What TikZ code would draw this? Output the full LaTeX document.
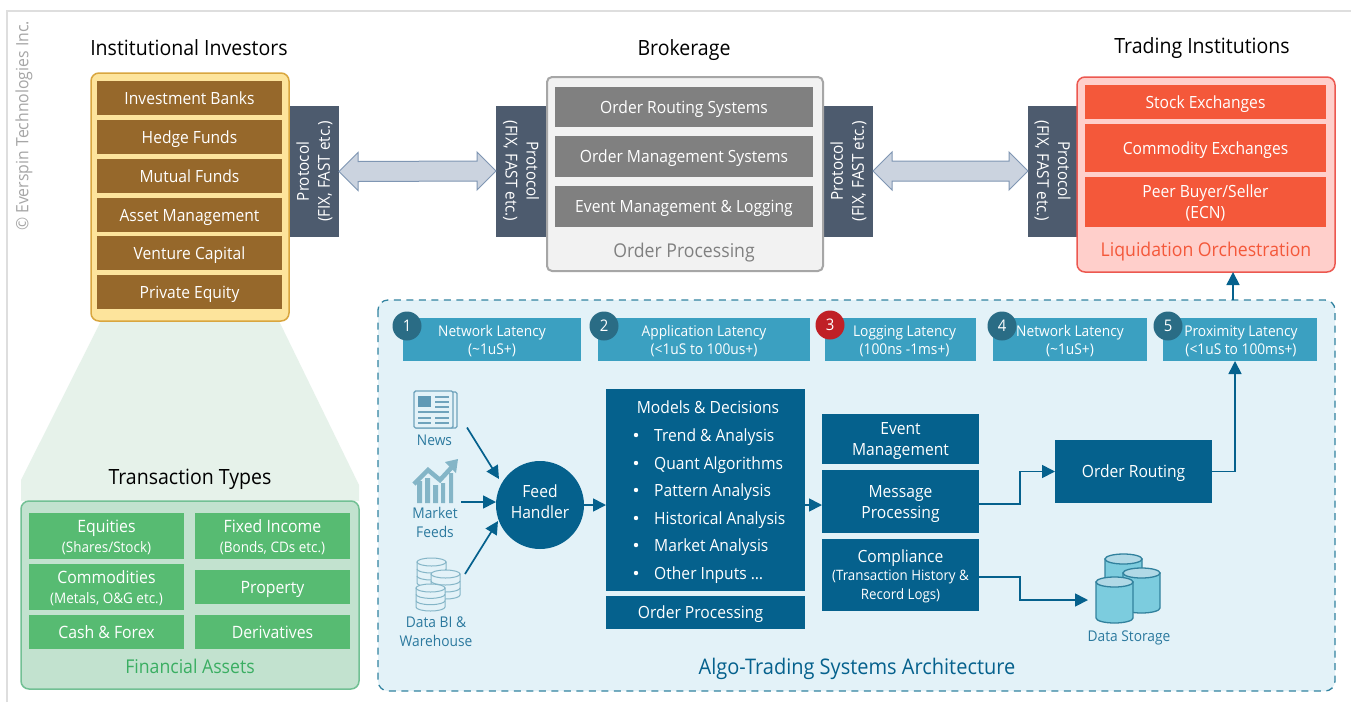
\documentclass[tikz,border=0pt]{standalone}
\usepackage{fontspec}
\setmainfont[FakeStretch=0.93]{Open Sans}
\usetikzlibrary{arrows.meta,calc}
\definecolor{brownb}{HTML}{96682B}
\definecolor{prot}{HTML}{4D5B6E}
\definecolor{algo}{HTML}{05618D}
\definecolor{lat}{HTML}{3BA0C1}
\definecolor{latc}{HTML}{2A6C85}
\definecolor{redc}{HTML}{C02026}
\definecolor{grn}{HTML}{57BB72}
\definecolor{orng}{HTML}{F4583A}
\definecolor{iconc}{HTML}{6FA3BC}
\definecolor{iconl}{HTML}{84B5C7}
\definecolor{panelb}{HTML}{E3F2F8}
\definecolor{hatch}{HTML}{CBD3DF}
\definecolor{hatchd}{HTML}{7F96B3}
\definecolor{funnelc}{HTML}{E6F2EA}
\newsavebox\tbx
\newcommand{\low}[2]{\sbox\tbx{\begin{tabular}{@{}c@{}}#2\end{tabular}}\raisebox{#1}[\ht\tbx][\dp\tbx]{\usebox\tbx}}
\tikzset{
  x=1pt,y=-1pt,
  panel/.style={rounded corners=8pt,line width=1.5pt},
  bx/.style={inner sep=0pt,outer sep=0pt,align=center,text=white,font=\fontsize{16.8}{21}\selectfont},
  protbox/.style={bx,fill=prot,rotate=#1,minimum width=131pt,minimum height=49pt,font=\fontsize{16.4}{21}\selectfont},
  latbox/.style={bx,fill=lat,font=\fontsize{14.8}{18}\selectfont},
  finbox/.style={bx,fill=grn,font=\fontsize{17}{20}\selectfont},
  badge/.style={circle,fill=latc,text=white,minimum size=29pt,inner sep=0pt,font=\fontsize{16}{18}\selectfont},
  ttl/.style={inner sep=0pt,text height=15pt,text depth=4pt,font=\fontsize{21}{24}\selectfont,text=black},
  sub/.style={inner sep=0pt,text height=15pt,text depth=4pt,font=\fontsize{19}{22}\selectfont},
  iconlbl/.style={inner sep=0pt,align=center,text=algo!85,font=\fontsize{14.8}{19}\selectfont},
  lst/.style={inner sep=0pt,text height=12pt,text depth=4pt,text=white,font=\fontsize{16.8}{18}\selectfont,anchor=west,yshift=-2pt},
  conn/.style={draw=algo,line width=1.7pt,-{Triangle[length=13pt,width=13pt]}},
  biga/.style={fill=hatch,draw=hatchd,line width=1pt,line join=miter},
}
% \bx{name}{x1}{y1}{x2}{y2}{style}{text}
\newcommand{\bx}[7]{\node[bx,#6,minimum width={(#4-#2)*1pt},minimum height={(#5-#3)*1pt}] (#1) at ({(#2+#4)/2},{(#3+#5)/2}) {\low{-2pt}{#7}};}
\newcommand{\dbl}[2]{\path[biga] (#1) -- ++(19,-19) -- ++(0,9) -- ($(#2)+(-19,-10)$) -- ++(0,-9) -- (#2) -- ++(-19,19) -- ++(0,-9) -- ($(#1)+(19,10)$) -- ++(0,9) -- cycle;}
% \cyln{x1}{ytop}{x2}{ybot}
\newcommand{\cyln}[4]{%
  \path[fill=lat!60!white!90!cyan,draw=latc!60!lat,line width=1.3pt] (#1,#2) -- (#1,#4) arc[start angle=180,end angle=0,x radius={(#3-#1)/2},y radius=5] -- (#3,#2) -- cycle;
  \path[fill=lat!40!white,draw=latc!60!lat,line width=1.3pt] ({(#1+#3)/2},#2) ellipse[x radius={(#3-#1)/2},y radius=5];}
% thin stack of discs
\newcommand{\stk}[4]{%
  \path[fill=panelb,draw=iconl,line width=1pt] (#1,#2) -- (#1,#4) arc[start angle=180,end angle=0,x radius={(#3-#1)/2},y radius=4] -- (#3,#2) -- cycle;
  \draw[iconl,line width=1pt] (#1,{#2+(#4-#2)/3}) arc[start angle=180,end angle=0,x radius={(#3-#1)/2},y radius=4];
  \draw[iconl,line width=1pt] (#1,{#2+2*(#4-#2)/3}) arc[start angle=180,end angle=0,x radius={(#3-#1)/2},y radius=4];
  \path[fill=panelb,draw=iconl,line width=1pt] ({(#1+#3)/2},#2) ellipse[x radius={(#3-#1)/2},y radius=4];}
\begin{document}
\begin{tikzpicture}
\useasboundingbox (0,0) rectangle (1351,702);
\fill[white] (0,0) rectangle (1351,702);
% frame
\draw[black!13,line width=2pt] (7,702) -- (7,11) -- (1351,11);
\node[rotate=90,inner sep=0pt,text=black!35,font=\fontsize{17}{20}\selectfont] (copy) at (24,126) {© Everspin Technologies Inc.};

% funnel
\path[fill=funnelc] (101,321) -- (279,321) -- (359,485) -- (359,501) -- (21,501) -- (21,480) -- cycle;

% Institutional
\node[ttl] (t1) at (189,49.5) {Institutional Investors};
\path[panel,fill={rgb,255:red,253;green,228;blue,156},draw={rgb,255:red,217;green,166;blue,63}] (91,73) rectangle (289,321);
\bx{b1}{97}{81}{282}{115}{fill=brownb}{Investment Banks}
\bx{b2}{97}{120}{282}{154}{fill=brownb}{Hedge Funds}
\bx{b3}{97}{159}{282}{193}{fill=brownb}{Mutual Funds}
\bx{b4}{97}{198}{282}{232}{fill=brownb}{Asset Management}
\bx{b5}{97}{236}{282}{270}{fill=brownb}{Venture Capital}
\bx{b6}{97}{275}{282}{309}{fill=brownb}{Private Equity}

% Protocols
\node[protbox=90] (p1) at (314.5,171.5) {Protocol\\(FIX, FAST etc.)};
\node[protbox=-90,minimum height=50pt] (p2) at (521,171) {Protocol\\(FIX, FAST etc.)};
\node[protbox=90] (p3) at (848.5,171) {Protocol\\(FIX, FAST etc.)};
\node[protbox=-90] (p4) at (1052.5,171) {Protocol\\(FIX, FAST etc.)};
\dbl{p1.south}{p2.south}
\dbl{p3.south}{p4.south}

% Brokerage
\node[ttl] (t2) at (684,49.5) {Brokerage};
\path[rounded corners=5pt,line width=2pt,fill=black!5,draw=black!35] (547,77) rectangle (823,271);
\bx{g1}{555}{87}{813}{127}{fill=black!50}{Order Routing Systems}
\bx{g2}{555}{136}{813}{177}{fill=black!50}{Order Management Systems}
\bx{g3}{555}{186}{813}{227}{fill=black!50}{Event Management \& Logging}
\node[sub,text=black!50] (op) at (684,252) {Order Processing};

% Trading
\node[ttl] (t3) at (1202,47.5) {Trading Institutions};
\path[panel,fill={rgb,255:red,255;green,207;blue,203},draw={rgb,255:red,236;green,88;blue,80}] (1077,77) rectangle (1335,272);
\bx{r1}{1085}{85}{1326}{119}{fill=orng}{Stock Exchanges}
\bx{r2}{1085}{124}{1326}{172}{fill=orng}{Commodity Exchanges}
\bx{r3}{1085}{177}{1326}{227}{fill=orng}{Peer Buyer/Seller\\(ECN)}
\node[sub,text=orng] (lo) at (1206,251) {Liquidation Orchestration};

% Financial
\node[ttl] (t4) at (190,478.5) {Transaction Types};
\path[panel,fill={rgb,255:red,194;green,226;blue,207},draw={rgb,255:red,114;green,192;blue,148}] (21,501) rectangle (359,689);
\bx{f1}{29}{513}{184}{559}{finbox}{Equities\\{\fontsize{14.5}{15}\selectfont (Shares/Stock)}}
\bx{f2}{195}{513}{350}{559}{finbox}{Fixed Income\\{\fontsize{14.5}{15}\selectfont (Bonds, CDs etc.)}}
\bx{f3}{29}{564}{184}{610}{finbox}{Commodities\\{\fontsize{14.5}{15}\selectfont (Metals, O\&G etc.)}}
\bx{f4}{195}{570}{350}{604}{finbox}{Property}
\bx{f5}{29}{615}{184}{649}{finbox}{Cash \& Forex}
\bx{f6}{195}{615}{350}{649}{finbox}{Derivatives}
\node[sub,text={rgb,255:red,58;green,174;blue,98}] (fa) at (190,668) {Financial Assets};

% Algo panel
\path[fill=panelb,draw=latc!55!lat,line width=1.3pt,rounded corners=10pt,dash pattern=on 7pt off 5.5pt] (378,300) rectangle (1335,691);
\coordinate (algotop) at (1233,300);
\node[sub,text=algo,font=\fontsize{21.5}{24}\selectfont] (at) at (857,668.5) {Algo-Trading Systems Architecture};

\bx{l1}{403}{318}{581}{361}{latbox}{Network Latency\\(\textasciitilde1uS+)}
\bx{l2}{598}{318}{810}{361}{latbox}{Application Latency\\(<1uS to 100us+)}
\bx{l3}{825}{318}{976}{361}{latbox}{\hspace*{8pt}Logging Latency\\\hspace*{8pt}(100ns -1ms+)}
\bx{l4}{993}{318}{1147}{361}{latbox}{Network Latency\\(\textasciitilde1uS+)}
\bx{l5}{1163}{318}{1317}{361}{latbox}{\hspace*{2pt}Proximity Latency\\\hspace*{2pt}(<1uS to 100ms+)}
\node[badge] (c1) at (407,326) {1};
\node[badge] (c2) at (604,326) {2};
\node[badge,fill=redc] (c3) at (830,325) {3};
\node[badge] (c4) at (1002,326) {4};
\node[badge] (c5) at (1168,326) {5};

% Icons
% news
\path[fill=panelb,draw=iconc,line width=1.2pt,rounded corners=1.5pt] (415,392) rectangle (457,428);
\path[fill=panelb,draw=iconc,line width=1.4pt,rounded corners=1.5pt] (414,391) rectangle (453,428);
\fill[iconc!85!algo] (418,396) rectangle (431,407);
\draw[iconc,line width=1.3pt] (435,397) -- (449,397) (435,402) -- (449,402) (435,407) -- (449,407) (418,412) -- (449,412) (418,418) -- (431,418) (435,418) -- (449,418) (418,423) -- (431,423) (435,423) -- (449,423);
\node[iconlbl] (news) at (434.5,440) {News};
% market
\fill[iconl] (417,481) rectangle (422,503) (425,478) rectangle (430,503) (433,485) rectangle (438,503) (441,483) rectangle (445,503) (449,473) rectangle (453,503);
\draw[iconl,line width=4.5pt,line join=miter] (414,484) -- (428,470) -- (440,480) -- (452,467);
\fill[iconl] (445,462) -- (458,459) -- (456,473) -- cycle;
\node[iconlbl] (mkt) at (435,522) {Market\\Feeds};
% data
\stk{417}{562}{446}{583}
\stk{431}{574}{460}{595}
\stk{416}{588}{445}{607}
\node[iconlbl] (dw) at (436,632) {Data BI \&\\Warehouse};
\coordinate (newsend) at (467,427.5);
\coordinate (mktend) at (461,502);
\coordinate (dwend) at (465,574);
\coordinate (fhn) at (499,479);
\coordinate (fhw) at (496,502);
\coordinate (fhs) at (498,521);

% Core
\node[circle,fill=algo,text=white,minimum size=88pt,inner sep=0pt,font=\fontsize{16.8}{21}\selectfont] (fh) at (540,505) {\low{1pt}{Feed\\Handler}};
\bx{mod}{606}{389}{805}{591}{fill=algo}{}
\bx{ordp}{606}{596}{805}{629}{fill=algo}{\hspace*{-10pt}Order Processing}
\node[lst,anchor=center] (mh) at (708,407) {Models \& Decisions};
\foreach \n/\yy/\tx in {m1/435/Trend \& Analysis,m2/463/Quant Algorithms,m3/490/Pattern Analysis,m4/518/Historical Analysis,m5/545/Market Analysis,m6/573/Other Inputs …}{
  \node[lst] (\n) at (654,\yy) {\tx};
  \fill[white] (636,\yy) circle[radius=2.2];
}
\bx{ev}{822}{414}{979}{464}{fill=algo}{Event\\Management}
\bx{msg}{822}{470}{979}{533}{fill=algo}{Message\\Processing}
\bx{com}{822}{539}{979}{611}{fill=algo,font=\fontsize{14.3}{18.5}\selectfont}{{\fontsize{16.8}{19}\selectfont Compliance}\\(Transaction History \&\\Record Logs)}
\bx{rt}{1055}{440}{1212}{503}{fill=algo}{Order Routing}

% Storage
\cyln{1105}{559}{1142}{598}
\cyln{1123}{573}{1160}{608}
\cyln{1096}{582}{1133}{618}
\node[iconlbl] (ds) at (1129,638) {Data Storage};
\coordinate (dsin) at (1088,600);

% connectors
\draw[conn] (newsend) -- (fhn);
\draw[conn] (mktend) -- (fhw);
\draw[conn] (dwend) -- (fhs);
\draw[conn] (fh.east) -- (mod.west|-fh.east);
\draw[conn] (mod.east|-fh.east) -- (msg.west|-fh.east);
\draw[conn] (msg.east|-0,504) -- ++(41,0) |- (rt.west);
\draw[conn] (com.east|-0,577) -- ++(41,0) |- (dsin);
\draw[conn] (rt.east) -| ($(l5.south)+(-5,0)$);
\draw[conn] (algotop) -- (algotop|-0,272);
\end{tikzpicture}
\end{document}
